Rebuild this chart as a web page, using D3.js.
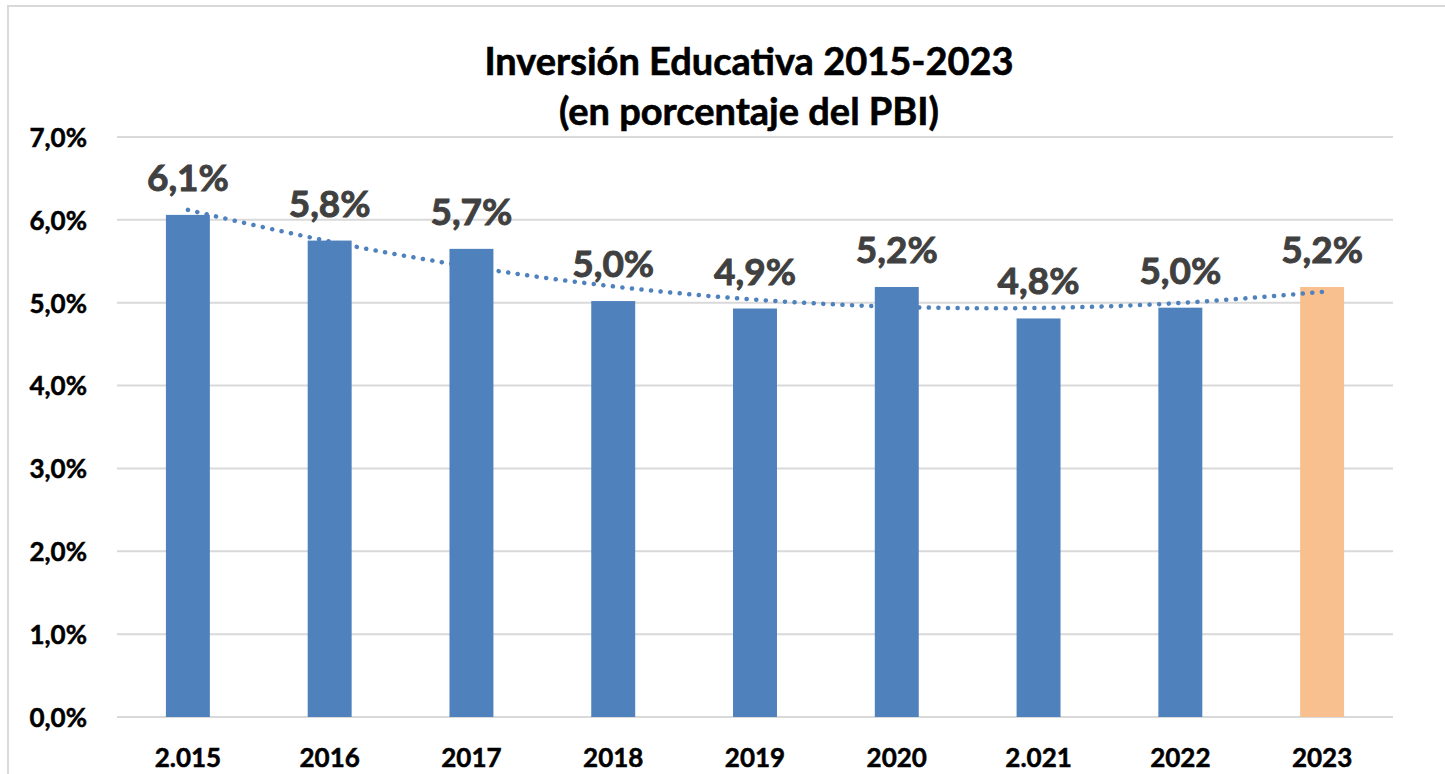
<!DOCTYPE html>
<html>
<head>
<meta charset="utf-8">
<script src="https://cdn.jsdelivr.net/npm/d3@7"></script>
<style>
  html, body { margin: 0; padding: 0; background: #fff; }
  svg { display: block; }
  text { font-family: Lato, "Open Sans", sans-serif; font-weight: bold; }
</style>
</head>
<body>
<svg id="chart" width="1445" height="774"></svg>
<script>
// ---- data ----
const categories = ["2.015", "2016", "2017", "2018", "2019", "2020", "2.021", "2022", "2023"];
const values = [6.06, 5.75, 5.65, 5.02, 4.93, 5.19, 4.81, 4.94, 5.19];
const valueLabels = ["6,1%", "5,8%", "5,7%", "5,0%", "4,9%", "5,2%", "4,8%", "5,0%", "5,2%"];
const barColors = ["#4F81BD", "#4F81BD", "#4F81BD", "#4F81BD", "#4F81BD", "#4F81BD", "#4F81BD", "#4F81BD", "#F9C08F"];
const yTicks = [0, 1, 2, 3, 4, 5, 6, 7];
const yTickLabels = ["0,0%", "1,0%", "2,0%", "3,0%", "4,0%", "5,0%", "6,0%", "7,0%"];
const titleLines = ["Inversión Educativa 2015-2023", "(en porcentaje del PBI)"];

// ---- layout ----
const svg = d3.select("#chart");
const plot = { left: 117, right: 1393, top: 137, bottom: 717 };

// chart border
svg.append("rect")
  .attr("x", 8).attr("y", 6)
  .attr("width", 1445).attr("height", 800)
  .attr("fill", "none").attr("stroke", "#d9d9d9").attr("stroke-width", 2);

const x = d3.scaleBand().domain(categories).range([plot.left, plot.right]).paddingInner(0.69).paddingOuter(0.345);
const y = d3.scaleLinear().domain([0, 7]).range([plot.bottom, plot.top]);

// gridlines
svg.append("g").selectAll("line").data(yTicks).join("line")
  .attr("x1", plot.left).attr("x2", plot.right)
  .attr("y1", d => y(d)).attr("y2", d => y(d))
  .attr("stroke", "#d9d9d9").attr("stroke-width", 2);

// y axis labels
const yAxis = d3.axisLeft(y).tickValues(yTicks).tickSize(0).tickPadding(0)
  .tickFormat((d, i) => yTickLabels[i]);
const gy = svg.append("g").attr("transform", `translate(87,0)`).call(yAxis);
gy.select(".domain").remove();
gy.selectAll("text").attr("font-size", 26).attr("fill", "#000")
  .attr("stroke", "#000").attr("stroke-width", 0.5)
  .attr("font-family", "Lato, sans-serif").attr("font-weight", "bold")
  .attr("dy", "0.36em");

// x axis labels
const xAxis = d3.axisBottom(x).tickSize(0).tickPadding(0);
const gx = svg.append("g").attr("transform", `translate(0,${plot.bottom})`).call(xAxis);
gx.select(".domain").remove();
gx.selectAll("text").attr("font-size", 26).attr("fill", "#000")
  .attr("stroke", "#000").attr("stroke-width", 0.5)
  .attr("font-family", "Lato, sans-serif").attr("font-weight", "bold")
  .attr("dy", null).attr("y", 50);

// bars
svg.append("g").selectAll("rect").data(values).join("rect")
  .attr("x", (d, i) => x(categories[i]))
  .attr("width", x.bandwidth())
  .attr("y", d => y(d))
  .attr("height", d => y(0) - y(d))
  .attr("fill", (d, i) => barColors[i]);

// polynomial (order 2) trendline, least squares fit of the bar values
function polyFit2(xs, ys) {
  const n = xs.length;
  let s = [0, 0, 0, 0, 0], t = [0, 0, 0];
  for (let i = 0; i < n; i++) {
    let p = 1;
    for (let k = 0; k < 5; k++) { s[k] += p; if (k < 3) t[k] += p * ys[i]; p *= xs[i]; }
  }
  const A = [[s[0], s[1], s[2], t[0]], [s[1], s[2], s[3], t[1]], [s[2], s[3], s[4], t[2]]];
  for (let c = 0; c < 3; c++) {
    for (let r = c + 1; r < 3; r++) {
      const f = A[r][c] / A[c][c];
      for (let k = c; k < 4; k++) A[r][k] -= f * A[c][k];
    }
  }
  const coef = [0, 0, 0];
  for (let r = 2; r >= 0; r--) {
    let v = A[r][3];
    for (let k = r + 1; k < 3; k++) v -= A[r][k] * coef[k];
    coef[r] = v / A[r][r];
  }
  return coef;
}
const idx = categories.map((d, i) => i + 1);
const coef = polyFit2(idx, values);
const trend = idx.map(t => ({ cat: categories[t - 1], v: coef[0] + coef[1] * t + coef[2] * t * t }));

const line = d3.line()
  .x(d => x(d.cat) + x.bandwidth() / 2)
  .y(d => y(d.v))
  .curve(d3.curveNatural);
svg.append("path").datum(trend)
  .attr("d", line)
  .attr("fill", "none")
  .attr("stroke", "#4F81BD")
  .attr("stroke-width", 4.5)
  .attr("stroke-linecap", "round")
  .attr("stroke-dasharray", "0.1 9.5");

// value labels
svg.append("g").selectAll("text").data(values).join("text")
  .attr("x", (d, i) => x(categories[i]) + x.bandwidth() / 2)
  .attr("y", d => y(d) - 24)
  .attr("text-anchor", "middle")
  .attr("font-size", 37)
  .attr("fill", "#404040")
  .attr("stroke", "#404040").attr("stroke-width", 0.9)
  .text((d, i) => valueLabels[i]);

// title
svg.append("g").selectAll("text").data(titleLines).join("text")
  .attr("x", 749)
  .attr("y", (d, i) => 75 + i * 50)
  .attr("text-anchor", "middle")
  .attr("font-size", 38)
  .attr("fill", "#000")
  .attr("stroke", "#000").attr("stroke-width", 0.6)
  .text(d => d);
</script>
</body>
</html>
